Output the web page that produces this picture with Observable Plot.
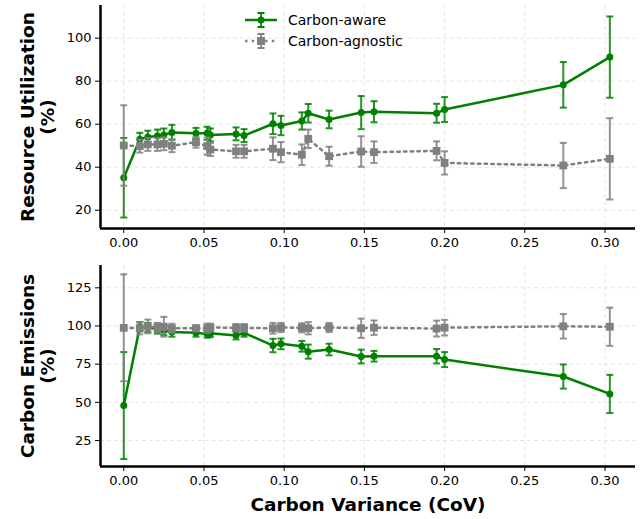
<!DOCTYPE html>
<html><head><meta charset="utf-8">
<script src="https://cdn.jsdelivr.net/npm/d3@7"></script>
<script src="https://cdn.jsdelivr.net/npm/@observablehq/plot@0.6"></script>
<style>
body{margin:0;background:#fff;font-family:"DejaVu Sans",sans-serif;}
#wrap{position:relative;width:640px;height:519px;}
#wrap svg{display:block;}
</style></head><body><div id="wrap"></div>
<script>
// ---- data ----
const covValues = [0, 0.010, 0.015, 0.021, 0.025, 0.030, 0.045, 0.052, 0.054, 0.070, 0.075, 0.093, 0.098, 0.111, 0.115, 0.128, 0.148, 0.156, 0.195, 0.200, 0.274, 0.303];

const utilAware      = [35.1, 53, 54, 54.5, 55, 56.2, 55.8, 55.8, 55, 55.5, 54.7, 60.2, 59.4, 61.5, 65.1, 62.2, 65.4, 65.8, 65.1, 66.8, 78.3, 91.2];
const utilAwareErr   = [18.5, 3, 3, 3, 3, 3.5, 2.5, 3, 3, 3, 3, 4.8, 4.5, 4, 4.3, 4.1, 7.7, 4.9, 4.4, 5.8, 10.6, 18.9];
const utilAgnostic   = [50.1, 49.8, 50.6, 50.6, 50.9, 50, 51.6, 49.8, 48.2, 47.4, 47.4, 48.6, 47, 45.8, 53.2, 45.1, 47.3, 47, 47.6, 42, 40.8, 43.9];
const utilAgnosticErr= [18.7, 3, 3, 3, 3, 3, 2.5, 4, 3, 3, 3, 5.3, 4.7, 4.8, 4.3, 4.4, 7.1, 5, 4.4, 5.4, 10.5, 18.9];

const emisAware      = [47.9, 99.5, 99, 98, 97, 96, 95.5, 94.8, 95.2, 93.7, 95.5, 87.2, 88.3, 86.7, 83.2, 84.6, 80, 80.2, 80.2, 78, 66.9, 55.5];
const emisAwareErr   = [35, 3, 3, 3, 3, 3, 2.5, 2.5, 2.5, 2.5, 2.5, 4.4, 3.5, 3.5, 4.6, 3.8, 4.5, 3.5, 4.7, 4.9, 7.9, 12.5];
const emisAgnostic   = [98.8, 98.5, 99.7, 99, 99.5, 98.5, 98.5, 98.5, 99, 98.8, 98.8, 98.5, 99, 98.8, 98.5, 99, 98.5, 98.9, 98.3, 98.9, 99.8, 99.5];
const emisAgnosticErr= [35, 4, 4.5, 3, 6.5, 3, 2, 3, 2.5, 2.5, 2.5, 3.5, 3, 3, 4, 3, 6.3, 4.7, 5.2, 5.1, 8, 12.5];

const seriesNames = ["Carbon-aware", "Carbon-agnostic"];
const xTicks = [0, 0.05, 0.10, 0.15, 0.20, 0.25, 0.30];
const utilTicks = [20, 40, 60, 80, 100];
const emisTicks = [25, 50, 75, 100, 125];
const yLabels = ["Resource Utilization\n(%)", "Carbon Emissions\n(%)"];
const xLabel = "Carbon Variance (CoV)";

// ---- drawing ----
const GREEN = "#008000", GRAY = "#808080";
const xDomain = [-0.0145, 0.319];
const cap = {draw(ctx, size) { const r = Math.sqrt(size / Math.PI); ctx.moveTo(-r, 0); ctx.lineTo(r, 0); }};

function rowsOf(vals, errs) {
  return covValues.map((x, i) => ({x, y: vals[i], lo: vals[i] - errs[i], hi: vals[i] + errs[i]}));
}

function seriesMarks(rows, color, dashed, symbol, r) {
  return [
    Plot.ruleX(rows, {x: "x", y1: "lo", y2: "hi", stroke: color, strokeWidth: 2, strokeOpacity: 0.85}),
    Plot.dot(rows, {x: "x", y: "lo", symbol: cap, r: 3.5, stroke: color, strokeWidth: 2, fill: "none", strokeOpacity: 0.85}),
    Plot.dot(rows, {x: "x", y: "hi", symbol: cap, r: 3.5, stroke: color, strokeWidth: 2, fill: "none", strokeOpacity: 0.85}),
    Plot.line(rows, {x: "x", y: "y", stroke: color, strokeWidth: 2.5, strokeDasharray: dashed ? "2.5,4.2" : null}),
    Plot.dot(rows, {x: "x", y: "y", symbol, r, fill: color, stroke: "none"})
  ];
}

function panel({aware, awareErr, agn, agnErr, yDomain, yTicks, height, marginTop, marginBottom, ylabel, extra = []}) {
  const A = rowsOf(aware, awareErr), B = rowsOf(agn, agnErr);
  return Plot.plot({
    width: 640, height, marginLeft: 100, marginRight: 5, marginTop, marginBottom,
    style: {fontFamily: "DejaVu Sans, sans-serif", fontSize: "13px", color: "#000", background: "#fff", overflow: "visible"},
    x: {domain: xDomain},
    y: {domain: yDomain},
    marks: [
      Plot.ruleX(xTicks, {stroke: "#e4e4e4", strokeDasharray: "4,3"}),
      Plot.ruleY(yTicks, {stroke: "#e4e4e4", strokeDasharray: "4,3"}),
      ...seriesMarks(A, GREEN, false, "circle", 3.5),
      ...seriesMarks(B, GRAY, true, "square", 4.4),
      Plot.axisX({ticks: xTicks, tickFormat: d3.format(".2f"), tickSize: 5, tickPadding: 4, label: null}),
      Plot.axisY({ticks: yTicks, tickSize: 5, tickPadding: 4, label: null}),
      Plot.ruleX([xDomain[0]], {stroke: "#000", strokeWidth: 2.5}),
      Plot.ruleY([yDomain[0]], {stroke: "#000", strokeWidth: 2.5}),
      Plot.text([ylabel], {frameAnchor: "left", dx: -63, rotate: -90, textAnchor: "middle", lineAnchor: "middle",
                           lineHeight: 1.1, fontWeight: "bold", fontSize: 18.5, fill: "#000"}),
      ...extra
    ]
  });
}

const wrap = document.getElementById("wrap");
wrap.appendChild(panel({aware: utilAware, awareErr: utilAwareErr, agn: utilAgnostic, agnErr: utilAgnosticErr,
  yDomain: [11.5, 115.2], yTicks: utilTicks, height: 255, marginTop: 5, marginBottom: 27, ylabel: yLabels[0]}));
wrap.appendChild(panel({aware: emisAware, awareErr: emisAwareErr, agn: emisAgnostic, agnErr: emisAgnosticErr,
  yDomain: [8, 139.6], yTicks: emisTicks, height: 264, marginTop: 10, marginBottom: 53, ylabel: yLabels[1],
  extra: [Plot.text([xLabel], {frameAnchor: "bottom", dy: 39, textAnchor: "middle", lineAnchor: "middle",
                               fontWeight: "bold", fontSize: 18.5, fill: "#000"})]}));

// legend
const NS = "http://www.w3.org/2000/svg";
const leg = document.createElementNS(NS, "svg");
leg.setAttribute("width", 190); leg.setAttribute("height", 58);
leg.style.position = "absolute"; leg.style.left = "240px"; leg.style.top = "0px"; leg.style.overflow = "visible";
const items = [
  {name: seriesNames[0], color: GREEN, dash: null, sq: false, y: 20},
  {name: seriesNames[1], color: GRAY, dash: "2.5,4.2", sq: true, y: 41}
];
let html = "";
for (const it of items) {
  const cx = 21;
  html += `<line x1="5" x2="37" y1="${it.y}" y2="${it.y}" stroke="${it.color}" stroke-width="2.5" ${it.dash ? `stroke-dasharray="${it.dash}"` : ""}/>`;
  html += `<line x1="${cx}" x2="${cx}" y1="${it.y - 7}" y2="${it.y + 7}" stroke="${it.color}" stroke-width="2" stroke-opacity="0.85"/>`;
  html += `<line x1="${cx - 3.5}" x2="${cx + 3.5}" y1="${it.y - 7}" y2="${it.y - 7}" stroke="${it.color}" stroke-width="2"/>`;
  html += `<line x1="${cx - 3.5}" x2="${cx + 3.5}" y1="${it.y + 7}" y2="${it.y + 7}" stroke="${it.color}" stroke-width="2"/>`;
  html += it.sq ? `<rect x="${cx - 4}" y="${it.y - 4}" width="8" height="8" fill="${it.color}"/>`
                : `<circle cx="${cx}" cy="${it.y}" r="3.5" fill="${it.color}"/>`;
  html += `<text x="48" y="${it.y}" dy="0.35em" font-family="DejaVu Sans, sans-serif" font-size="14" fill="#000">${it.name}</text>`;
}
leg.innerHTML = html;
wrap.appendChild(leg);
</script></body></html>
